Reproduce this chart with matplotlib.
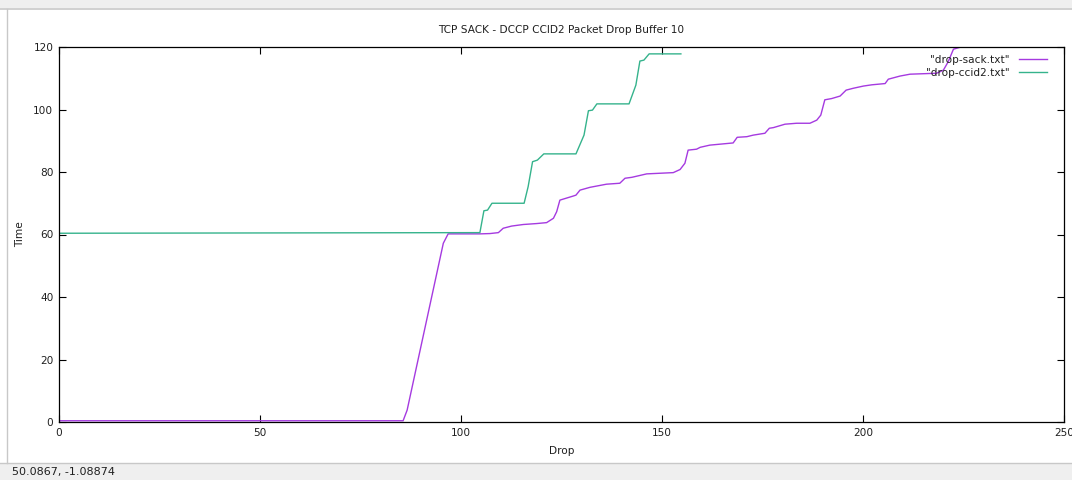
import matplotlib
matplotlib.use("Agg")
import matplotlib.pyplot as plt
from matplotlib.patches import Rectangle
from matplotlib.lines import Line2D

# drop-sack.txt  (Drop, Time)
sack_drop = [0, 85.6, 86.6, 95.6, 96.8, 104.7, 107.2, 109.3, 110.5, 112.6,
             115.5, 118.8, 121.3, 123.0, 123.8, 124.6, 127.9, 128.6, 129.6,
             132.1, 136.2, 139.5, 140.8, 142.5, 146.2, 152.8, 154.5, 155.7,
             156.5, 158.6, 159.5, 161.9, 167.7, 168.7, 171.1, 172.7, 175.6,
             176.7, 177.7, 180.6, 183.5, 186.8, 188.5, 189.5, 190.5, 192.2,
             194.3, 195.8, 197.6, 200.1, 202.2, 205.5, 206.3, 209.2, 211.7,
             218.3, 220.0, 221.2, 222.5, 224.1, 225.8]
sack_time = [0.4, 0.4, 3.8, 57.2, 60.2, 60.2, 60.3, 60.6, 62.0, 62.7,
             63.2, 63.5, 63.8, 65.2, 67.3, 71.0, 72.3, 72.6, 74.2,
             75.1, 76.1, 76.4, 78.0, 78.3, 79.4, 79.8, 80.8, 82.8,
             87.0, 87.3, 87.9, 88.6, 89.3, 91.1, 91.3, 91.8, 92.4,
             94.0, 94.2, 95.3, 95.6, 95.6, 96.6, 98.2, 103.1, 103.5,
             104.3, 106.2, 106.8, 107.5, 107.9, 108.3, 109.7, 110.7, 111.3,
             111.6, 112.6, 115.3, 119.3, 119.9, 120.3]

# drop-ccid2.txt  (Drop, Time)
ccid2_drop = [0, 104.7, 105.7, 106.6, 107.7, 115.7, 116.7, 117.8, 119.0,
              120.6, 128.6, 130.6, 131.7, 132.7, 133.8, 141.8, 143.5,
              144.5, 145.5, 146.8, 154.7]
ccid2_time = [60.4, 60.6, 67.6, 67.8, 70.0, 70.0, 75.3, 83.3, 83.8,
              85.8, 85.8, 91.8, 99.6, 99.8, 101.8, 101.8, 107.8,
              115.5, 115.8, 117.8, 117.8]

W, H = 1072, 480
FS = 7.6
fig = plt.figure(figsize=(W / 100, H / 100), dpi=100)
fig.patch.set_facecolor("white")

# window chrome: top strip, left edge, status bar
fig.add_artist(Rectangle((0, 1 - 8 / H), 1, 8 / H, transform=fig.transFigure,
                         facecolor="#efefef", edgecolor="none"))
fig.add_artist(Line2D([0, 1], [1 - 9 / H, 1 - 9 / H], transform=fig.transFigure,
                      color="#c8c8c8", lw=1.2))
fig.add_artist(Line2D([7 / W, 7 / W], [17 / H, 1 - 9 / H], transform=fig.transFigure,
                      color="#c8c8c8", lw=1.0))
fig.add_artist(Rectangle((0, 0), 1, 17 / H, transform=fig.transFigure,
                         facecolor="#efefef", edgecolor="none"))
fig.add_artist(Line2D([0, 1], [17 / H, 17 / H], transform=fig.transFigure,
                      color="#c8c8c8", lw=1.0))
fig.text(12 / W, 8 / H, "50.0867, -1.08874", fontsize=8, color="#202020",
         va="center", ha="left")

ax = fig.add_axes([59 / W, 1 - 422 / H, (1064 - 59) / W, (422 - 47) / H])
ax.plot(sack_drop, sack_time, color="#a53ae0", lw=1.0, label='"drop-sack.txt"')
ax.plot(ccid2_drop, ccid2_time, color="#35b38c", lw=1.0, label='"drop-ccid2.txt"')

ax.set_xlim(0, 250)
ax.set_ylim(0, 120)
ax.set_xticks([0, 50, 100, 150, 200, 250])
ax.set_yticks([0, 20, 40, 60, 80, 100, 120])
ax.tick_params(direction="in", top=True, right=True, length=5, width=0.8,
               labelsize=FS, colors="black", labelcolor="#202020", pad=4)
for s in ax.spines.values():
    s.set_linewidth(0.9)

ax.set_title("TCP SACK - DCCP CCID2 Packet Drop Buffer 10", fontsize=FS, pad=10,
             color="#202020")
ax.set_xlabel("Drop", fontsize=FS, color="#202020", labelpad=6)
ax.set_ylabel("Time", fontsize=FS, color="#202020", labelpad=6)

leg = ax.legend(loc="upper right", frameon=False, fontsize=FS, markerfirst=False,
                handlelength=2.7, handletextpad=0.9, borderaxespad=0.0,
                labelspacing=0.3, bbox_to_anchor=(0.9875, 0.99))
for t in leg.get_texts():
    t.set_color("#202020")

fig.savefig("out.png", dpi=100)
